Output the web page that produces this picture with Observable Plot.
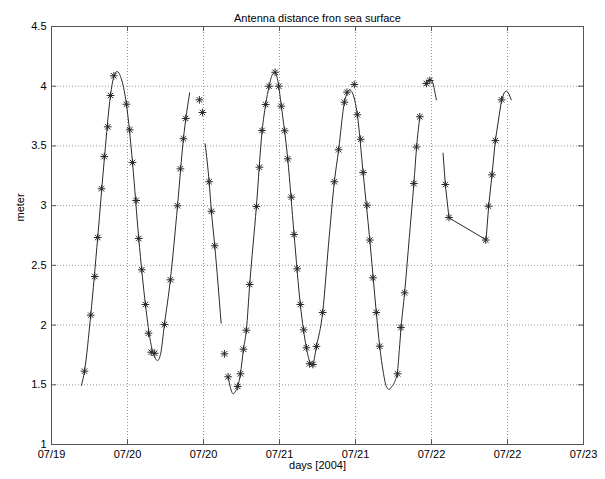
<!DOCTYPE html>
<html><head><meta charset="utf-8">
<script src="https://cdn.jsdelivr.net/npm/d3@7"></script>
<script src="https://cdn.jsdelivr.net/npm/@observablehq/plot@0.6"></script>
<style>body{margin:0;background:#fff}</style>
</head><body><div id="chart"></div>
<script>
const title = "Antenna distance fron sea surface";
const xLabel = "days [2004]";
const yLabel = "meter";

const xTicks = [19.5, 20, 20.5, 21, 21.5, 22, 22.5, 23];
const xTickLabels = ["07/19", "07/20", "07/20", "07/21", "07/21", "07/22", "07/22", "07/23"];
const yTicks = [1, 1.5, 2, 2.5, 3, 3.5, 4, 4.5];
const yTickLabels = ["1", "1.5", "2", "2.5", "3", "3.5", "4", "4.5"];

// measured samples (asterisks)
const markerDay = [
  19.717,19.758,19.785,19.804,19.829,19.847,19.870,19.888,19.910,
  19.993,20.015,20.033,20.057,20.074,20.094,20.118,20.138,20.156,20.179,
  20.243,20.282,20.329,20.348,20.368,20.383,
  20.473,20.493,20.537,20.552,20.574,20.638,
  20.662,20.725,20.743,20.763,20.782,20.804,20.848,20.868,20.885,20.909,20.931,20.971,20.995,
  21.012,21.034,21.054,21.078,21.096,21.116,21.137,21.159,21.177,21.198,21.220,21.243,21.284,
  21.361,21.389,21.427,21.444,21.492,21.512,21.534,21.550,21.576,21.594,21.615,21.637,21.659,
  21.777,21.799,21.823,21.884,21.901,21.923,21.966,21.989,
  22.091,22.115,22.357,22.375,22.398,22.420,22.461
];
const markerMeter = [
  1.614,2.083,2.407,2.733,3.141,3.411,3.660,3.922,4.087,
  3.849,3.635,3.361,3.043,2.725,2.463,2.172,1.932,1.773,1.764,
  2.005,2.379,2.999,3.308,3.560,3.730,
  3.886,3.780,3.200,2.953,2.664,1.759,
  1.567,1.486,1.592,1.798,1.957,2.340,2.993,3.322,3.629,3.847,4.000,4.117,4.000,
  3.833,3.627,3.392,3.071,2.758,2.471,2.172,1.960,1.810,1.676,1.670,1.821,2.105,
  3.200,3.468,3.866,3.950,4.014,3.761,3.556,3.277,3.004,2.712,2.396,2.105,1.823,
  1.592,1.980,2.270,3.185,3.491,3.744,4.023,4.048,
  3.177,2.901,2.712,2.995,3.258,3.545,3.886
];

// fitted curve segments
const segADay = [19.697,19.717,19.758,19.804,19.849,19.888,19.910,19.932,19.954,19.993,20.033,20.074,20.118,20.156,20.177,20.197,20.217,20.243,20.282,20.329,20.368,20.409];
const segAMeter = [1.494,1.614,2.083,2.733,3.411,3.922,4.081,4.123,4.081,3.849,3.361,2.725,2.172,1.829,1.737,1.703,1.754,2.005,2.379,2.999,3.560,3.945];
const segBDay = [20.511,20.537,20.552,20.574,20.616];
const segBMeter = [3.518,3.200,2.953,2.664,2.016];
const segCDay = [20.662,20.677,20.695,20.710,20.725,20.743,20.763,20.782,20.804,20.848,20.886,20.909,20.932,20.953,20.970,20.986,21.012,21.054,21.096,21.137,21.177,21.200,21.216,21.243,21.284,21.322,21.361,21.389,21.427,21.447,21.462,21.479,21.512,21.550,21.594,21.637,21.659,21.683,21.703,21.721,21.739,21.756,21.777,21.788,21.800,21.823,21.854,21.884,21.902,21.923];
const segCMeter = [1.567,1.477,1.425,1.444,1.486,1.592,1.798,1.957,2.340,2.993,3.629,3.847,4.000,4.098,4.115,4.065,3.833,3.392,2.758,2.172,1.810,1.687,1.661,1.821,2.105,2.666,3.200,3.468,3.866,3.947,3.970,3.947,3.761,3.277,2.712,2.105,1.823,1.603,1.486,1.461,1.486,1.519,1.620,1.787,1.980,2.270,2.733,3.185,3.491,3.744];
const segDDay = [21.963,21.979,21.992,22.006,22.019,22.032];
const segDMeter = [4.006,4.048,4.060,4.039,3.972,3.886];
const segEDay = [22.076,22.091,22.115,22.359,22.376,22.398,22.420,22.461,22.479,22.492,22.505,22.525];
const segEMeter = [3.439,3.177,2.898,2.714,2.995,3.258,3.545,3.886,3.947,3.960,3.947,3.886];

const markers = markerDay.map((d, i) => ({day: d, meter: markerMeter[i]}));
const toPts = (days, meters, seg) => days.map((d, i) => ({day: d, meter: meters[i], seg}));
const smoothPts = [
  ...toPts(segADay, segAMeter, "A"),
  ...toPts(segBDay, segBMeter, "B"),
  ...toPts(segCDay, segCMeter, "C"),
  ...toPts(segDDay, segDMeter, "D")
];
const straightPts = toPts(segEDay, segEMeter, "E");

const frameStroke = "#555";
const gridStroke = "#999";
const ink = "#2a2a2a";
const W = 605, H = 479, mL = 51, mR = 22, mT = 26, mB = 35;
const tickLen = 5;
const fw = W - mL - mR, fh = H - mT - mB;

const chart = Plot.plot({
  width: W, height: H,
  marginLeft: mL, marginRight: mR, marginTop: mT, marginBottom: mB,
  style: {fontFamily: '"Liberation Sans", Arial, sans-serif', fontSize: "11px", background: "#fff", color: "#000"},
  x: {type: "linear", domain: [xTicks[0], xTicks[xTicks.length - 1]]},
  y: {type: "linear", domain: [yTicks[0], yTicks[yTicks.length - 1]]},
  marks: [
    Plot.gridX(xTicks, {stroke: gridStroke, strokeOpacity: 1, strokeDasharray: "1,2"}),
    Plot.gridY(yTicks, {stroke: gridStroke, strokeOpacity: 1, strokeDasharray: "1,2"}),
    Plot.ruleX(xTicks, {insetTop: fh - tickLen, stroke: frameStroke}),
    Plot.ruleX(xTicks, {insetBottom: fh - tickLen, stroke: frameStroke}),
    Plot.ruleY(yTicks, {insetRight: fw - tickLen, stroke: frameStroke}),
    Plot.ruleY(yTicks, {insetLeft: fw - tickLen, stroke: frameStroke}),
    Plot.frame({stroke: frameStroke}),
    Plot.axisX({ticks: xTicks, tickSize: 0, tickPadding: 6, tickFormat: d => xTickLabels[xTicks.indexOf(d)], label: null}),
    Plot.axisY({ticks: yTicks, tickSize: 0, tickPadding: 5, tickFormat: d => yTickLabels[yTicks.indexOf(d)], label: null}),
    Plot.line(smoothPts, {x: "day", y: "meter", z: "seg", curve: "monotone-x", stroke: ink, strokeWidth: 1}),
    Plot.line(straightPts, {x: "day", y: "meter", z: "seg", curve: "linear", stroke: ink, strokeWidth: 1}),
    Plot.dot(markers, {x: "day", y: "meter", symbol: "plus", r: 2.6, stroke: ink, strokeWidth: 1}),
    Plot.dot(markers, {x: "day", y: "meter", symbol: "times", r: 2.6, stroke: ink, strokeWidth: 1}),
    Plot.text([title], {text: d => d, frameAnchor: "top", dy: -12, fill: "#000"}),
    Plot.text([xLabel], {text: d => d, frameAnchor: "bottom", dy: 24, fill: "#000"}),
    Plot.text([yLabel], {text: d => d, frameAnchor: "left", rotate: -90, dx: -31, dy: -14, fill: "#000"})
  ]
});
document.getElementById("chart").appendChild(chart);
</script>
</body></html>
